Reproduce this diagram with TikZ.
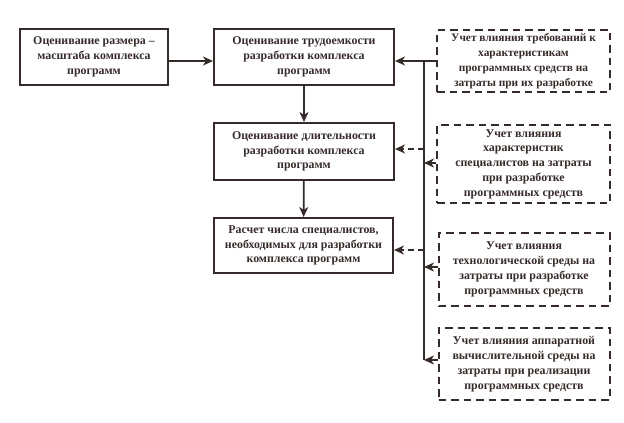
\documentclass[tikz,border=0pt]{standalone}
\usepackage{fontspec}
\setmainfont{Liberation Serif}
\usetikzlibrary{arrows.meta}
\definecolor{ink}{HTML}{352B29}
\begin{document}
\begin{tikzpicture}[x=1pt,y=-1pt,
  box/.style={draw=ink,line width=2pt,text=ink,font=\bfseries\fontsize{11.9}{14.8}\selectfont,align=center,inner sep=2pt},
  dbox/.style={box,dash pattern=on 7.5pt off 5pt},
  arr/.style={draw=ink,line width=1.7pt,-{Stealth[length=10pt,width=9pt,inset=3pt]}},
  darr/.style={arr,dash pattern=on 6pt off 4pt}]
\useasboundingbox (0,0) rectangle (624,423);
\node[box,minimum width=148pt,minimum height=56pt] (a) at (94,57) {Оценивание размера –\\масштаба комплекса\\программ};
\node[box,minimum width=180pt,minimum height=56pt] (b) at (304,57) {Оценивание трудоемкости\\разработки комплекса\\программ};
\node[box,minimum width=180pt,minimum height=57pt] (c) at (304,151.5) {Оценивание длительности\\разработки комплекса\\программ};
\node[box,minimum width=179pt,minimum height=55pt] (d) at (303.5,245.5) {Расчет числа специалистов,\\необходимых для разработки\\комплекса программ};
\node[dbox,minimum width=173pt,minimum height=62pt,font=\bfseries\fontsize{11.4}{14.8}\selectfont] (r1) at (523.5,61) {Учет влияния требований к\\характеристикам\\программных средств на\\затраты при их разработке};
\node[dbox,minimum width=173pt,minimum height=78pt] (r2) at (523.5,164) {Учет влияния\\характеристик\\специалистов на затраты\\при разработке\\программных средств};
\node[dbox,minimum width=171pt,minimum height=73pt] (r3) at (524,269.5) {Учет влияния\\технологической среды на\\затраты при разработке\\программных средств};
\node[dbox,minimum width=171pt,minimum height=72pt] (r4) at (524,364) {Учет влияния аппаратной\\вычислительной среды на\\затраты при реализации\\программных средств};
\coordinate (btop) at (424,61);
\coordinate (bbot) at (424,360);
\coordinate (b2) at (424,163);
\coordinate (b3) at (424,267);
\coordinate (bc) at (424,149);
\coordinate (bd) at (424,250);
\draw[arr] (a.east |- 0,61) -- (b.west |- 0,61);
\draw[arr] (r1.west |- 0,61) -- (b.east |- 0,61);
\draw[draw=ink,line width=1.7pt] (btop) -- (bbot);
\draw[arr] (b) -- (c);
\draw[arr] (c) -- (d);
\draw[darr] (bc) -- (c.east |- bc);
\draw[darr] (bd) -- (d.east |- bd);
\draw[arr] (r2.west |- b2) -- (b2);
\draw[arr] (r3.west |- b3) -- (b3);
\draw[arr] (r4.west |- bbot) -- (bbot);
\end{tikzpicture}
\end{document}
